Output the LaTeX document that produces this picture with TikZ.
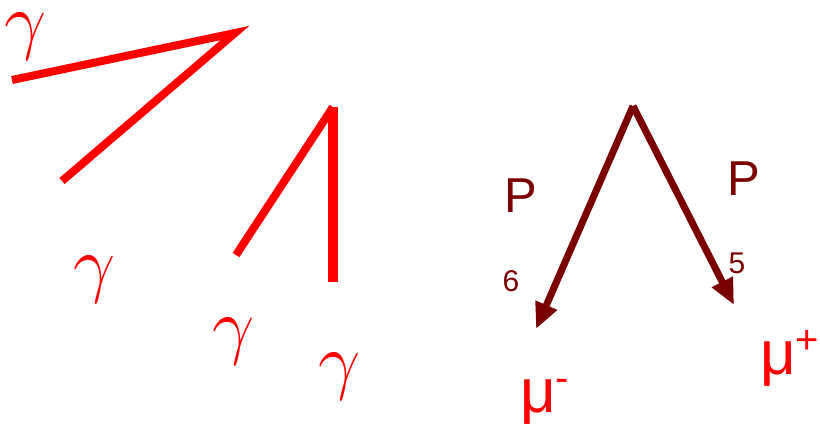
\RequirePackage{fix-cm}
\documentclass[tikz,border=0pt]{standalone}
\usepackage{fontspec}
\setmainfont{Liberation Sans}
\usepackage{tikz}
\usetikzlibrary{arrows.meta}
\definecolor{muonred}{RGB}{122,0,0}

\begin{document}
\begin{tikzpicture}[
    x=1pt, y=-1pt,
    photon/.style={red, line width=8pt, line join=miter},
    muon/.style={-{Triangle[length=26pt,width=22pt]}, line width=7pt, muonred},
    glabel/.style={red, inner sep=0pt, font=\fontsize{75}{75}\selectfont},
    plabel/.style={muonred, inner sep=0pt, font=\fontsize{49}{49}\selectfont},
    idx/.style={muonred, inner sep=0pt, font=\fontsize{30}{30}\selectfont},
    mlabel/.style={red, inner sep=0pt, anchor=base west, font=\fontsize{62}{62}\selectfont}
]
\useasboundingbox (0,0) rectangle (820,428);

% first photon pair
\coordinate (a1) at (12,80);
\coordinate (va) at (235,33);
\coordinate (a2) at (62,181);
\draw[photon] (a1) -- (va) -- (a2);
\node[glabel] (ga1) at (26,37) {$\gamma$};
\node[glabel] (ga2) at (95,280) {$\gamma$};

% second photon pair
\coordinate (b1) at (236,255);
\coordinate (vb) at (333,107);
\coordinate (b2) at (333,282);
\draw[photon] (b1) -- (vb);
\draw[photon, line width=10.5pt] (vb) -- (b2);
\node[glabel] (gb1) at (234,342) {$\gamma$};
\node[glabel] (gb2) at (340,377) {$\gamma$};

% muon pair
\coordinate (vm) at (633,106);
\coordinate (m1) at (536,329);
\coordinate (m2) at (734,305);
\draw[muon] (vm) -- (m1);
\draw[muon] (vm) -- (m2);
\node[plabel] (p6) at (521,196) {P};
\node[idx] (i6) at (511,281) {6};
\node[plabel] (p5) at (744,179) {P};
\node[idx] (i5) at (737,263) {5};
\node[mlabel] (mminus) at (520,412)
    {μ\raisebox{21pt}{\fontsize{40}{40}\selectfont -}};
\node[mlabel] (mplus) at (760,374)
    {μ\raisebox{21pt}{\fontsize{40}{40}\selectfont +}};
\end{tikzpicture}
\end{document}
